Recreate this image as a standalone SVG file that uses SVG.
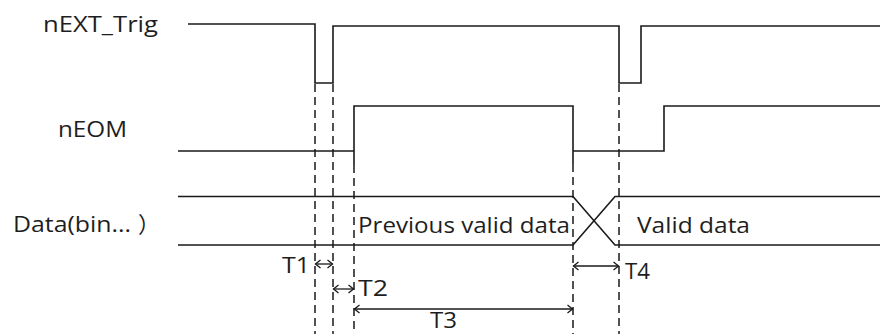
<svg xmlns="http://www.w3.org/2000/svg" width="880" height="334" viewBox="0 0 880 334">
<style>
.sig{fill:none;stroke:#1a1a1a;stroke-width:1.6}
.dash{fill:none;stroke:#1a1a1a;stroke-width:1.5;stroke-dasharray:8,5}
.arr{fill:none;stroke:#1a1a1a;stroke-width:1.3;marker-start:url(#ah);marker-end:url(#ah)}
text{font-family:"Open Sans","Noto Sans CJK SC",sans-serif;font-size:22px;fill:#1e1e1e}
</style>
<defs>
<marker id="ah" markerUnits="userSpaceOnUse" markerWidth="12" markerHeight="12" viewBox="-6 -6 12 12" refX="0" refY="0" orient="auto-start-reverse">
<path d="M-5,-4 L0,0 L-5,4" fill="none" stroke="#1a1a1a" stroke-width="1.3"/>
</marker>
</defs>
<rect width="880" height="334" fill="#fff"/>
<g id="label-nEXT_Trig"><text x="43" y="32" textLength="115" lengthAdjust="spacingAndGlyphs">nEXT_Trig</text></g>
<g id="label-nEOM"><text x="58" y="137" textLength="69" lengthAdjust="spacingAndGlyphs">nEOM</text></g>
<g id="label-data"><text x="13" y="232"><tspan textLength="118" lengthAdjust="spacingAndGlyphs">Data(bin...</tspan><tspan x="138" font-family="'Noto Sans CJK SC',sans-serif">）</tspan></text></g>
<g id="signal-nEXT_Trig"><path class="sig" d="M188,24 H315 V83 H333 V26 H619 V83 H641 V26 H880"/></g>
<g id="signal-nEOM"><path class="sig" d="M178,151 H354 V106 H573 V151 H664 V106 H880 M354,151 V165 M573,151 V164"/></g>
<g id="signal-data">
<path class="sig" d="M178,196.5 H573 L615,245 H880 M178,245 H573 L615,196.5 H880"/>
<text x="358" y="233" textLength="212" lengthAdjust="spacingAndGlyphs">Previous valid data</text>
<text x="637" y="233" textLength="113" lengthAdjust="spacingAndGlyphs">Valid data</text>
</g>
<g id="connectors">
<path class="dash" d="M315,84 V334 M333,84 V334 M354,165 V334 M573,164 V334 M619,84 V334"/>
<line class="arr" x1="315.5" y1="264" x2="332.5" y2="264"/>
<line class="arr" x1="333.5" y1="289" x2="353.5" y2="289"/>
<line class="arr" x1="354.5" y1="309" x2="572.5" y2="309"/>
<line class="arr" x1="573.5" y1="266" x2="618.5" y2="266"/>
</g>
<g id="timing-labels">
<text x="282" y="273" textLength="28" lengthAdjust="spacingAndGlyphs">T1</text>
<text x="358" y="296" textLength="30" lengthAdjust="spacingAndGlyphs">T2</text>
<text x="430" y="328" textLength="27" lengthAdjust="spacingAndGlyphs">T3</text>
<text x="625" y="279" textLength="25" lengthAdjust="spacingAndGlyphs">T4</text>
</g>
</svg>
